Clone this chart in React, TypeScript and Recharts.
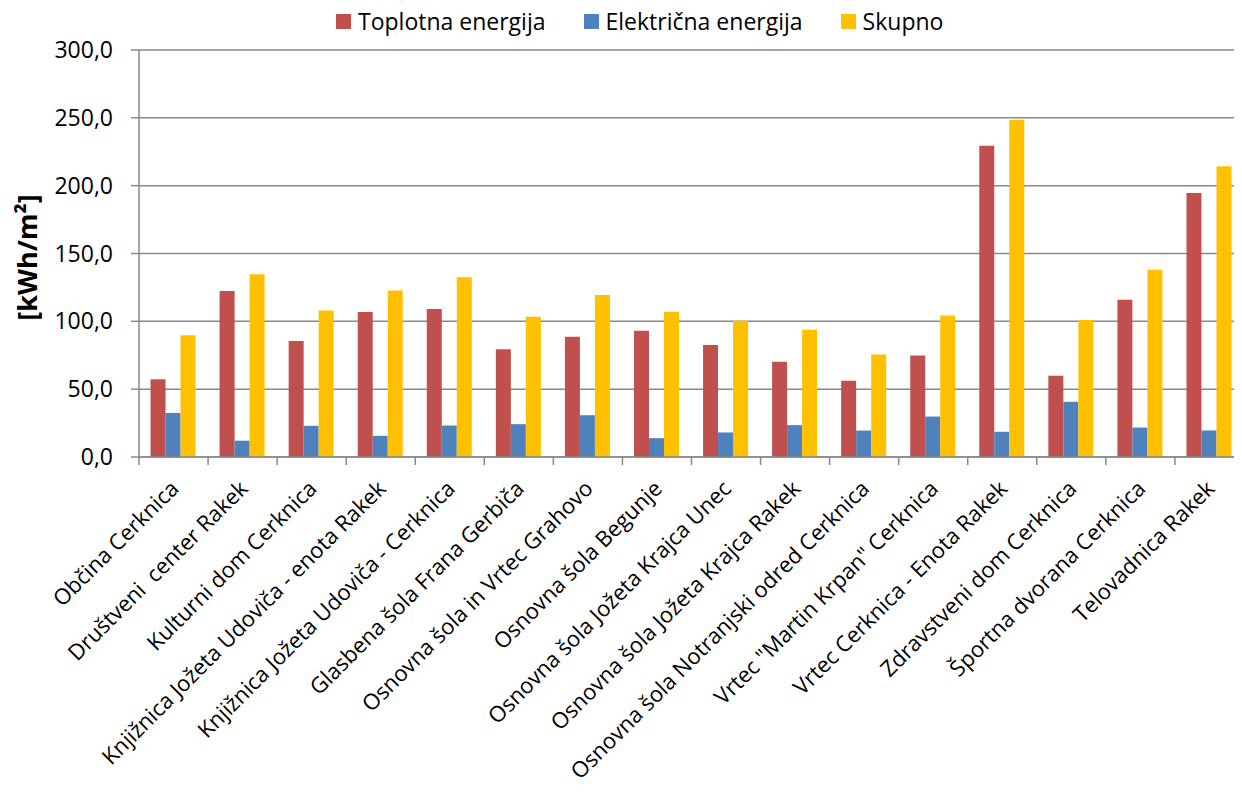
import React from "react";
import {
  BarChart,
  Bar,
  XAxis,
  YAxis,
  CartesianGrid,
} from "recharts";

const categories = [
  "Občina Cerknica",
  "Društveni  center Rakek",
  "Kulturni dom Cerknica",
  "Knjižnica Jožeta Udoviča - enota Rakek",
  "Knjižnica Jožeta Udoviča - Cerknica",
  "Glasbena šola Frana Gerbiča",
  "Osnovna šola in Vrtec Grahovo",
  "Osnovna šola Begunje",
  "Osnovna šola Jožeta Krajca Unec",
  "Osnovna šola Jožeta Krajca Rakek",
  "Osnovna šola Notranjski odred Cerknica",
  "Vrtec \"Martin Krpan\" Cerknica",
  "Vrtec Cerknica - Enota Rakek",
  "Zdravstveni dom Cerknica",
  "Športna dvorana Cerknica",
  "Telovadnica Rakek",
];

const toplotna = [57.4, 122.4, 85.5, 106.8, 109.0, 79.4, 88.7, 93.1, 82.6, 70.2, 56.2, 74.8, 229.4, 59.8, 115.9, 194.6];
const elektricna = [32.5, 12.0, 23.0, 15.6, 23.2, 24.2, 30.8, 13.9, 18.1, 23.5, 19.5, 29.8, 18.6, 40.7, 21.7, 19.6];
const skupno = [89.7, 134.7, 108.0, 122.7, 132.5, 103.4, 119.5, 107.0, 100.4, 93.8, 75.5, 104.3, 248.6, 101.0, 138.0, 214.3];

const yTicks = [0, 50, 100, 150, 200, 250, 300];

const series = [
  { key: "toplotna", name: "Toplotna energija", color: "#C0504D" },
  { key: "elektricna", name: "Električna energija", color: "#4F81BD" },
  { key: "skupno", name: "Skupno", color: "#FFC000" },
];

const data = categories.map((name, i) => ({
  name,
  toplotna: toplotna[i],
  elektricna: elektricna[i],
  skupno: skupno[i],
}));

const FONT = "'Open Sans', sans-serif";
const CHART_W = 1240;
const CHART_H = 780;
const Y_AXIS_W = 131;
const MARGIN_RIGHT = 4;
const BAND = (CHART_W - Y_AXIS_W - MARGIN_RIGHT) / categories.length;
const AXIS_COLOR = "#898989";

const formatY = (v: number) => v.toFixed(1).replace(".", ",");

const XTick = (props: any) => {
  const { x, y, payload, index } = props;
  return (
    <g>
      <line x1={x - BAND / 2} y1={y} x2={x - BAND / 2} y2={y + 8} stroke={AXIS_COLOR} strokeWidth={1.5} />
      {index === categories.length - 1 && (
        <line x1={x + BAND / 2} y1={y} x2={x + BAND / 2} y2={y + 8} stroke={AXIS_COLOR} strokeWidth={1.5} />
      )}
      <g transform={`translate(${x + 6.5},${y + 33})`}>
        <text
          transform="rotate(-45)"
          textAnchor="end"
          fill="#000"
          fontSize={22}
          fontFamily={FONT}
          style={{ whiteSpace: "pre" }}
        >
          {payload.value}
        </text>
      </g>
    </g>
  );
};

const YLabel = (props: any) => {
  const { viewBox } = props;
  const cx = viewBox.x + 18;
  const cy = viewBox.y + viewBox.height / 2 + 4;
  return (
    <text
      x={cx}
      y={cy}
      transform={`rotate(-90,${cx},${cy})`}
      textAnchor="middle"
      dominantBaseline="central"
      fontSize={27}
      fontWeight="bold"
      fontFamily={FONT}
      fill="#000"
    >
      [kWh/m²]
    </text>
  );
};

const App = () => {
  return (
    <div style={{ position: "relative", width: 1234, height: CHART_H, fontFamily: FONT }}>
      <div style={{ position: "absolute", top: 0, left: 0, width: 1234, height: CHART_H, overflow: "hidden" }}>
        <BarChart
          width={CHART_W}
          height={CHART_H}
          data={data}
          margin={{ top: 42, right: MARGIN_RIGHT, bottom: 0, left: 0 }}
          barCategoryGap="16.7%"
          barGap={0}
        >
          <CartesianGrid vertical={false} stroke={AXIS_COLOR} strokeWidth={1.5} />
          <XAxis
            dataKey="name"
            interval={0}
            height={331}
            tickLine={false}
            tickSize={0}
            tickMargin={0}
            axisLine={{ stroke: AXIS_COLOR, strokeWidth: 1.5 }}
            tick={<XTick />}
          />
          <YAxis
            width={Y_AXIS_W}
            domain={[0, 300]}
            ticks={yTicks}
            tickFormatter={formatY}
            tickSize={8}
            tickMargin={18}
            axisLine={{ stroke: AXIS_COLOR, strokeWidth: 1.5 }}
            tickLine={{ stroke: AXIS_COLOR, strokeWidth: 1.5 }}
            tick={{ fill: "#000", fontSize: 23, fontFamily: FONT }}
            label={<YLabel />}
          />
          {series.map((s) => (
            <Bar key={s.key} dataKey={s.key} name={s.name} fill={s.color} isAnimationActive={false} />
          ))}
        </BarChart>
      </div>
      <div
        style={{
          position: "absolute",
          top: 0,
          left: 328,
          display: "flex",
          alignItems: "center",
          fontSize: 23,
          lineHeight: "26px",
          color: "#000",
          whiteSpace: "nowrap",
        }}
      >
        {series.map((s, i) => (
          <div key={s.key} style={{ display: "flex", alignItems: "center", marginLeft: i === 0 ? 0 : 38 }}>
            <span style={{ width: 15, height: 15, background: s.color, display: "inline-block", marginRight: 7 }} />
            <span>{s.name}</span>
          </div>
        ))}
      </div>
    </div>
  );
};

export default App;
